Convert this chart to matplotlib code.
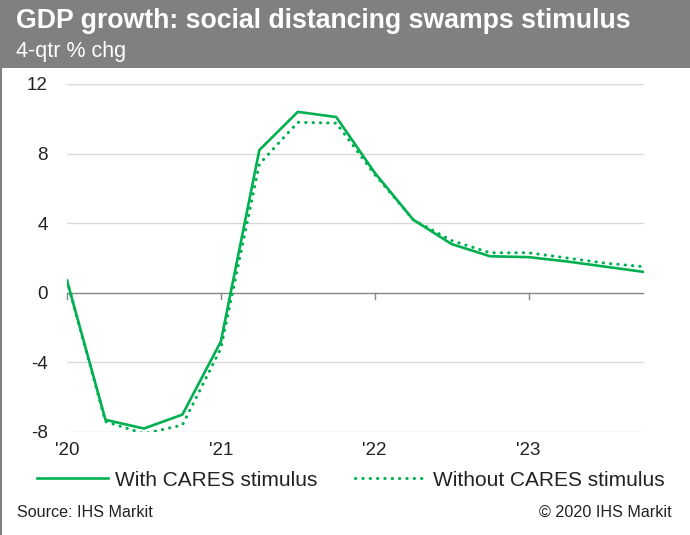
import numpy as np
import matplotlib
matplotlib.use('Agg')
import matplotlib.pyplot as plt
from matplotlib.patches import Rectangle
from matplotlib.lines import Line2D

plt.rcParams['font.family'] = ['Liberation Sans', 'DejaVu Sans']

# quarterly, 2020Q1 .. 2023Q4
quarters = np.arange(16)
with_cares = [0.7, -7.3, -7.8, -7.0, -2.8, 8.2, 10.4, 10.1,
              6.9, 4.2, 2.8, 2.1, 2.05, 1.8, 1.5, 1.2]
without_cares = [0.7, -7.4, -8.1, -7.6, -3.2, 7.4, 9.8, 9.75,
                 6.8, 4.2, 3.0, 2.3, 2.3, 2.0, 1.7, 1.5]
year_ticks = [0, 4, 8, 12]
year_labels = ["'20", "'21", "'22", "'23"]
y_ticks = [-8, -4, 0, 4, 8, 12]

green = '#00B050'
W, H = 690, 535
fig = plt.figure(figsize=(W / 100, H / 100), dpi=100)

def fx(px):
    return px / W

def fy(py):
    return 1 - py / H

# header band
fig.patches.append(Rectangle((0, fy(68)), 1, 68 / H, transform=fig.transFigure,
                             facecolor='#808080', edgecolor='none', zorder=0))
fig.lines.append(Line2D([0.0015, 0.0015], [0, fy(68)], transform=fig.transFigure,
                        color='#808080', lw=1.5))
fig.text(fx(16), fy(28), 'GDP growth: social distancing swamps stimulus',
         color='white', fontsize=19.2, fontweight='bold', va='baseline', ha='left')
fig.text(fx(16), fy(57), '4-qtr % chg', color='white', fontsize=15.5,
         va='baseline', ha='left')

ax = fig.add_axes([fx(67), fy(432), (644 - 67) / W, (432 - 84) / H])
ax.plot(quarters, with_cares, color=green, lw=1.9, label='With CARES stimulus')
ax.plot(quarters, without_cares, color=green, lw=2.2, linestyle=(0, (0.1, 2.3)),
        dash_capstyle='round', label='Without CARES stimulus')

ax.set_xlim(0, 15)
ax.set_ylim(-8, 12)
ax.set_yticks(y_ticks)
ax.set_yticklabels([str(v) for v in y_ticks])
for v in y_ticks:
    if v != 0:
        ax.axhline(v, color='#d9d9d9', lw=1.0, zorder=0)
ax.axhline(0, color='#868686', lw=1.0, zorder=1)
for t in year_ticks:
    ax.plot([t, t], [0, -0.35], color='#868686', lw=1.0, zorder=1, clip_on=False)

ax.set_xticks(year_ticks)
ax.set_xticklabels(year_labels)
ax.tick_params(axis='x', length=0, pad=7, labelsize=13.5, labelcolor='#222222')
ax.tick_params(axis='y', length=0, pad=14, labelsize=13.5, labelcolor='#222222')
for s in ax.spines.values():
    s.set_visible(False)

fig.legend(loc='center left', bbox_to_anchor=(fx(37), fy(480)), ncol=2,
           frameon=False, fontsize=15, handlelength=3.4, handletextpad=0.35,
           columnspacing=1.8, borderpad=0, borderaxespad=0,
           labelcolor='#222222')

fig.text(fx(17), fy(517), 'Source: IHS Markit', fontsize=11.6, va='baseline',
         ha='left', color='#222222')
fig.text(fx(672), fy(517), '\u00a9 2020 IHS Markit', fontsize=11.6, va='baseline',
         ha='right', color='#222222')

fig.savefig('out.png', dpi=100)
